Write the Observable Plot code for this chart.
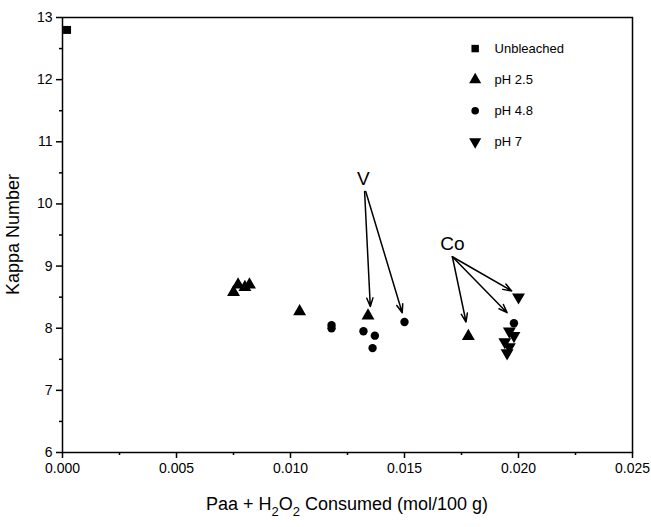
<!DOCTYPE html>
<html><head><meta charset="utf-8">
<script src="https://cdn.jsdelivr.net/npm/d3@7"></script>
<script src="https://cdn.jsdelivr.net/npm/@observablehq/plot@0.6"></script>
<style>body{margin:0;background:#fff;font-family:"Liberation Sans",Arial,sans-serif}</style>
</head><body><div id="chart"></div>
<script>
// Data
const unbleachedX = [0.0002];
const unbleachedY = [12.8];
const ph25X = [0.0075, 0.0077, 0.0080, 0.0082, 0.0104, 0.0134, 0.0178];
const ph25Y = [8.58, 8.70, 8.66, 8.70, 8.27, 8.20, 7.87];
const ph48X = [0.0118, 0.0118, 0.0132, 0.0137, 0.0136, 0.0150, 0.0198];
const ph48Y = [8.05, 8.00, 7.95, 7.88, 7.68, 8.10, 8.08];
const ph7X = [0.0200, 0.0196, 0.0198, 0.0194, 0.0196, 0.0195];
const ph7Y = [8.50, 7.95, 7.88, 7.78, 7.70, 7.60];
const xTicks = [0, 0.005, 0.01, 0.015, 0.02, 0.025];
const xMinor = [0.0025, 0.0075, 0.0125, 0.0175, 0.0225];
const yTicks = [6, 7, 8, 9, 10, 11, 12, 13];
const yMinor = [6.5, 7.5, 8.5, 9.5, 10.5, 11.5, 12.5];
const legendLabels = ["Unbleached", "pH 2.5", "pH 4.8", "pH 7"];
const legendY = [12.5, 12.0, 11.5, 11.0];
const legendSymX = 0.0181, legendTextX = 0.01895;
// annotations
const annLabels = ["V", "Co"];
const annX = [0.0132, 0.0171];
const annY = [10.4, 9.35];
const arrowX1 = [0.01325, 0.0133, 0.0171, 0.0171, 0.0171];
const arrowY1 = [10.2, 10.2, 9.15, 9.15, 9.15];
const arrowX2 = [0.0135, 0.0149, 0.0177, 0.0195, 0.0197];
const arrowY2 = [8.35, 8.25, 8.1, 8.25, 8.6];

const zip = (xs, ys) => xs.map((x, i) => ({x, y: ys[i]}));
const triangleDown = {
  draw(ctx, size) {
    const sqrt3 = Math.sqrt(3);
    const y = -Math.sqrt(size / (sqrt3 * 3));
    ctx.moveTo(0, -y * 2);
    ctx.lineTo(-sqrt3 * y, y);
    ctx.lineTo(sqrt3 * y, y);
    ctx.closePath();
  }
};
const legendSymbols = ["square", "triangle", "circle", triangleDown];
const legendR = [4.2, 4.5, 3.8, 4.5];
const legendData = legendLabels.map((l, i) => ({label: l, y: legendY[i], s: i}));
const arrows = arrowX1.map((x1, i) => ({x1, y1: arrowY1[i], x2: arrowX2[i], y2: arrowY2[i]}));
const ann = annLabels.map((t, i) => ({t, x: annX[i], y: annY[i]}));

const font = "Liberation Sans, Arial, sans-serif";
const chart = Plot.plot({
  width: 651, height: 527,
  marginLeft: 62, marginRight: 19, marginTop: 17, marginBottom: 75,
  style: {fontFamily: font, color: "black", background: "white"},
  x: {domain: [0, 0.025]},
  y: {domain: [6, 13]},
  marks: [
    Plot.frame({stroke: "black", strokeWidth: 1.5}),
    Plot.axisX({ticks: xTicks, tickSize: 6, tickPadding: 5, tickFormat: d3.format(".3f"), fontSize: 14, label: null, strokeWidth: 1.5}),
    Plot.axisX({ticks: xMinor, tickSize: 3, tickFormat: () => "", label: null, strokeWidth: 1.5}),
    Plot.axisY({ticks: yTicks, tickSize: 6, tickPadding: 4, tickFormat: d3.format("d"), fontSize: 14, label: null, strokeWidth: 1.5}),
    Plot.axisY({ticks: yMinor, tickSize: 3, tickFormat: () => "", label: null, strokeWidth: 1.5}),
    Plot.dot(zip(unbleachedX, unbleachedY), {x: "x", y: "y", symbol: "square", r: 4.5, fill: "black", stroke: "none"}),
    Plot.dot(zip(ph25X, ph25Y), {x: "x", y: "y", symbol: "triangle", r: 4.8, fill: "black", stroke: "none"}),
    Plot.dot(zip(ph48X, ph48Y), {x: "x", y: "y", symbol: "circle", r: 4.2, fill: "black", stroke: "none"}),
    Plot.dot(zip(ph7X, ph7Y), {x: "x", y: "y", symbol: triangleDown, r: 4.8, fill: "black", stroke: "none"}),
    Plot.arrow(arrows, {x1: "x1", y1: "y1", x2: "x2", y2: "y2", stroke: "black", strokeWidth: 1.5, headLength: 9, headAngle: 40}),
    Plot.text(ann, {x: "x", y: "y", text: "t", fontSize: 19, fill: "black"}),
    ...legendData.map(d => Plot.dot([d], {x: () => legendSymX, y: "y", symbol: legendSymbols[d.s], r: legendR[d.s], fill: "black", stroke: "none"})),
    Plot.text(legendData, {x: () => legendTextX, y: "y", text: "label", textAnchor: "start", fontSize: 13, fill: "black"})
  ]
});
const svg = d3.select(chart);
// X title with subscripts
const xt = svg.append("text").attr("x", 62 + (651 - 62 - 19) / 2).attr("y", 510)
  .attr("text-anchor", "middle").attr("font-size", 18).attr("font-family", font).attr("fill", "black");
xt.append("tspan").text("Paa + H");
xt.append("tspan").text("2").attr("font-size", 13).attr("dy", 6);
xt.append("tspan").text("O").attr("dy", -6);
xt.append("tspan").text("2").attr("font-size", 13).attr("dy", 6);
xt.append("tspan").text(" Consumed (mol/100 g)").attr("dy", -6);
// Y title
svg.append("text").attr("transform", `translate(19,${(17 + 452) / 2}) rotate(-90)`)
  .attr("text-anchor", "middle").attr("font-size", 18).attr("font-family", font).attr("fill", "black")
  .text("Kappa Number");
document.getElementById("chart").appendChild(chart);
</script></body></html>
